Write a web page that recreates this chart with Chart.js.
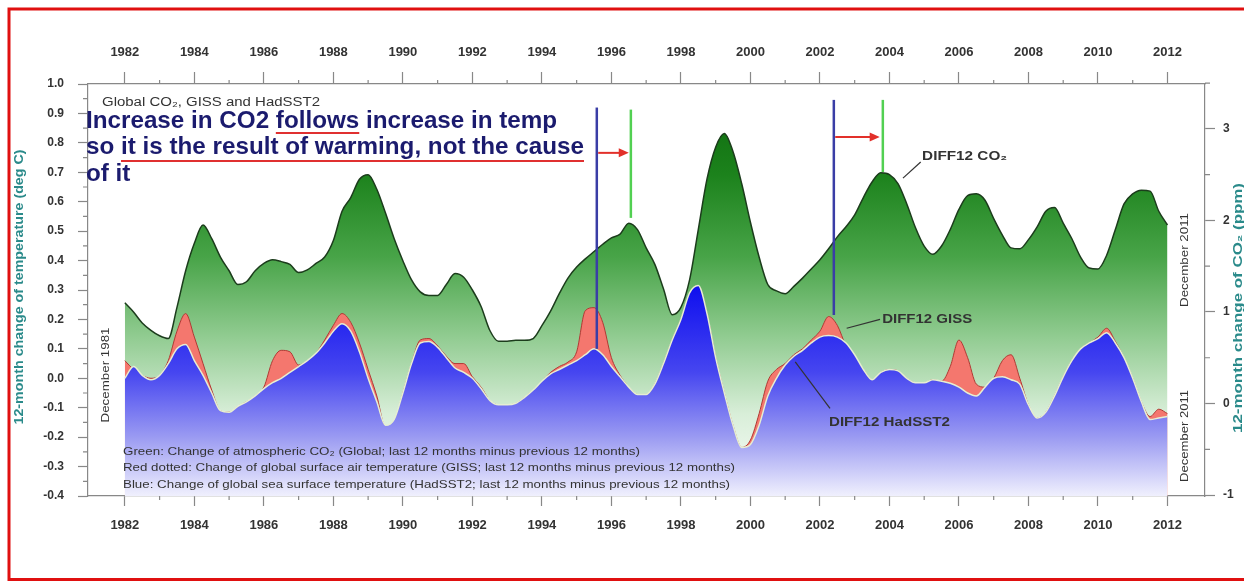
<!DOCTYPE html>
<html>
<head>
<meta charset="utf-8">
<title>Global CO2, GISS and HadSST2 - 12 month differences</title>
<script src="https://cdn.jsdelivr.net/npm/chart.js@4.4.1/dist/chart.umd.min.js"></script>
<style>
  html, body { margin: 0; padding: 0; background: #fff; }
  #wrap { width: 1244px; height: 581px; position: relative; }
</style>
</head>
<body>
<div id="wrap"><canvas id="chart"></canvas></div>
<script>
const FONT = "'Liberation Sans', Arial, sans-serif";

// quarterly steps, Dec 1981 .. Dec 2011
const years = [];
for (let i = 0; i <= 120; i++) years.push(1982 + i / 4);

// DIFF12 CO2 (ppm, right axis)
const co2Diff = [
  1.10, 1.00, 0.88, 0.80,   0.74, 0.71, 1.05, 1.45,   1.75, 1.95, 1.80, 1.60,
  1.45, 1.30, 1.33, 1.45,   1.53, 1.57, 1.55, 1.52,   1.43, 1.46, 1.53, 1.60,
  1.78, 2.10, 2.25, 2.45,   2.50, 2.34, 2.08, 1.80,   1.56, 1.35, 1.22, 1.18,
  1.18, 1.30, 1.42, 1.38,   1.24, 1.06, 0.80, 0.68,   0.68, 0.69, 0.69, 0.71,
  0.85, 1.01, 1.20, 1.37,   1.49, 1.58, 1.66, 1.74,   1.81, 1.85, 1.97, 1.90,
  1.70, 1.52, 1.25, 0.97,   1.05, 1.35, 1.90, 2.45,   2.80, 2.95, 2.75, 2.40,
  1.98, 1.60, 1.30, 1.23,   1.20, 1.28, 1.37, 1.47,   1.57, 1.69, 1.82, 1.93,
  2.06, 2.25, 2.42, 2.52,   2.50, 2.40, 2.18, 1.92,   1.72, 1.63, 1.72, 1.90,
  2.12, 2.27, 2.29, 2.22,   2.02, 1.84, 1.70, 1.69,   1.79, 1.93, 2.10, 2.14,
  1.97, 1.80, 1.60, 1.48,   1.47, 1.62, 1.90, 2.18,   2.29, 2.33, 2.32, 2.10,
  1.95
];

// DIFF12 GISS (deg C, left axis)
const gissDiff = [
  0.06, 0.03, 0.01, 0.00,   0.01, 0.06, 0.16, 0.22,   0.14, 0.05, -0.04, -0.11,
  -0.115, -0.095, -0.08, -0.06,   -0.03, 0.06, 0.095, 0.09,   0.045, 0.06, 0.085, 0.13,
  0.18, 0.22, 0.19, 0.12,   0.03, -0.06, -0.165, -0.15,   -0.05, 0.05, 0.13, 0.135,
  0.11, 0.075, 0.05, 0.05,   0.005, -0.03, -0.075, -0.09,   -0.09, -0.085, -0.065, -0.04,
  -0.01, 0.02, 0.04, 0.055,   0.09, 0.23, 0.24, 0.19,   0.07, 0.01, -0.03, -0.055,
  -0.055, -0.02, 0.05, 0.13,   0.20, 0.29, 0.315, 0.22,   0.07, -0.05, -0.16, -0.235,
  -0.21, -0.12, -0.01, 0.03,   0.05, 0.08, 0.10, 0.13,   0.16, 0.21, 0.18, 0.11,
  0.07, 0.03, -0.005, 0.02,   0.03, 0.025, 0.00, -0.015,   -0.015, -0.005, -0.01, 0.04,
  0.13, 0.07, -0.02, -0.03,   0.00, 0.06, 0.08, 0.00,   -0.09, -0.135, -0.115, -0.06,
  0.005, 0.06, 0.10, 0.12,   0.14, 0.17, 0.125, 0.07,   0.00, -0.08, -0.13, -0.105,
  -0.12
];

// DIFF12 HadSST2 (deg C, left axis)
const hadsstDiff = [
  0.00, 0.04, 0.01, -0.005,   0.01, 0.05, 0.10, 0.115,   0.06, 0.01, -0.05, -0.11,
  -0.115, -0.095, -0.08, -0.06,   -0.035, -0.015, 0.00, 0.02,   0.04, 0.06, 0.085, 0.12,
  0.16, 0.185, 0.16, 0.09,   0.00, -0.08, -0.16, -0.14,   -0.05, 0.05, 0.12, 0.125,
  0.105, 0.07, 0.035, 0.02,   0.00, -0.035, -0.075, -0.09,   -0.09, -0.085, -0.065, -0.04,
  -0.01, 0.015, 0.03, 0.045,   0.06, 0.08, 0.10, 0.08,   0.04, 0.005, -0.03, -0.055,
  -0.055, -0.02, 0.05, 0.13,   0.20, 0.29, 0.315, 0.22,   0.07, -0.05, -0.16, -0.235,
  -0.225, -0.16, -0.06, 0.00,   0.045, 0.075, 0.095, 0.12,   0.14, 0.145, 0.14, 0.12,
  0.08, 0.03, -0.005, 0.02,   0.03, 0.025, 0.00, -0.015,   -0.015, -0.005, -0.01, -0.017,
  -0.03, -0.05, -0.06, -0.03,   0.00, 0.005, -0.005, -0.02,   -0.09, -0.135, -0.115, -0.06,
  0.005, 0.06, 0.10, 0.12,   0.135, 0.155, 0.12, 0.07,   0.00, -0.08, -0.14, -0.135,
  -0.13
];

const yearTicks = [1982, 1984, 1986, 1988, 1990, 1992, 1994, 1996, 1998, 2000, 2002, 2004, 2006, 2008, 2010, 2012];
const tempTicks = [-0.4, -0.3, -0.2, -0.1, 0.0, 0.1, 0.2, 0.3, 0.4, 0.5, 0.6, 0.7, 0.8, 0.9, 1.0];
const co2Ticks = [-1, 0, 1, 2, 3];

// temperature peak (blue) -> CO2 peak (green), in years / deg C
const leadLines = [
  { year: 1995.58, from: 0.10, to: 0.92 },
  { year: 2002.40, from: 0.215, to: 0.946 }
];
const lagLines = [
  { year: 1996.56, from: 0.545, to: 0.913 },
  { year: 2003.81, from: 0.701, to: 0.946 }
];
const arrows = [
  { from: 1995.62, to: 1996.50, at: 0.766 },
  { from: 2002.44, to: 2003.72, at: 0.820 }
];

const greenStops = [[0, '#0a660a'], [0.22, '#1c821c'], [0.42, '#48a448'], [0.6, '#8cc98c'], [0.8, '#d8eed8'], [1, '#ffffff']];
const blueStops = [[0, '#0000d8'], [0.45, '#0404ee'], [0.7, '#4646f0'], [0.86, '#9c9cf2'], [1, '#f0f0fd']];

function vGradient(chart, stops) {
  const a = chart.chartArea;
  if (!a) return 'transparent';
  const g = chart.ctx.createLinearGradient(0, a.top, 0, a.bottom);
  stops.forEach(([o, c]) => g.addColorStop(o, c));
  return g;
}

function pts(vals) {
  return vals.map((v, i) => ({ x: years[i], y: v }));
}

function fitText(ctx, str, x, y, o) {
  ctx.save();
  ctx.font = `${o.weight || 'normal'} ${o.size}px ${FONT}`;
  ctx.fillStyle = o.color || '#333';
  ctx.textBaseline = o.baseline || 'middle';
  ctx.textAlign = o.align || 'left';
  const w = ctx.measureText(str).width;
  const s = o.scale || (o.width ? o.width / w : 1);
  ctx.translate(x, y);
  if (o.rotate) ctx.rotate(-Math.PI / 2);
  ctx.scale(s, 1);
  ctx.fillText(str, 0, 0);
  ctx.restore();
  return s;
}

const overlay = {
  id: 'overlay',
  afterDatasetsDraw(chart) {
    const ctx = chart.ctx;
    const X = v => chart.scales.x.getPixelForValue(v);
    const Y = v => chart.scales.y.getPixelForValue(v);
    ctx.save();
    ctx.lineWidth = 2.5;
    ctx.strokeStyle = '#3a3ea6';
    leadLines.forEach(l => {
      ctx.beginPath(); ctx.moveTo(X(l.year), Y(l.from)); ctx.lineTo(X(l.year), Y(l.to)); ctx.stroke();
    });
    ctx.strokeStyle = '#52d052';
    lagLines.forEach(l => {
      ctx.beginPath(); ctx.moveTo(X(l.year), Y(l.from)); ctx.lineTo(X(l.year), Y(l.to)); ctx.stroke();
    });
    ctx.strokeStyle = '#e2302a';
    ctx.fillStyle = '#e2302a';
    ctx.lineWidth = 2;
    arrows.forEach(a => {
      const x1 = X(a.from), x2 = X(a.to), y = Y(a.at);
      ctx.beginPath(); ctx.moveTo(x1, y); ctx.lineTo(x2 - 8, y); ctx.stroke();
      ctx.beginPath(); ctx.moveTo(x2, y); ctx.lineTo(x2 - 10, y - 4.5); ctx.lineTo(x2 - 10, y + 4.5); ctx.closePath(); ctx.fill();
    });

    // leader lines for the series labels
    ctx.strokeStyle = '#333';
    ctx.lineWidth = 1.2;
    [[2004.39, 0.68, 2004.90, 0.735], [2002.77, 0.17, 2003.73, 0.20], [2001.29, 0.056, 2002.29, -0.102]]
      .forEach(([a, b, c, d]) => {
        ctx.beginPath(); ctx.moveTo(X(a), Y(b)); ctx.lineTo(X(c), Y(d)); ctx.stroke();
      });
    ctx.restore();
  },
  afterDraw(chart) {
    const ctx = chart.ctx;
    const X = v => chart.scales.x.getPixelForValue(v);
    const Y = v => chart.scales.y.getPixelForValue(v);
    const YR = v => chart.scales.yR.getPixelForValue(v);
    const a = chart.chartArea;

    // minor ticks
    ctx.save();
    ctx.strokeStyle = '#888';
    ctx.lineWidth = 1.2;
    ctx.beginPath();
    for (let yr = 1983; yr <= 2011; yr += 2) {
      ctx.moveTo(X(yr), a.top); ctx.lineTo(X(yr), a.top - 4);
      ctx.moveTo(X(yr), a.bottom); ctx.lineTo(X(yr), a.bottom + 4);
    }
    for (let k = -35; k <= 95; k += 10) {
      ctx.moveTo(a.left, Y(k / 100)); ctx.lineTo(a.left - 5, Y(k / 100));
    }
    for (let k = -0.5; k <= 3.5; k += 1) {
      ctx.moveTo(a.right, YR(k)); ctx.lineTo(a.right + 5, YR(k));
    }
    ctx.stroke();
    ctx.restore();

    // axis titles
    fitText(ctx, '12-month change of temperature (deg C)', 20, 287, { size: 12, weight: 'bold', color: '#2a8a8a', align: 'center', rotate: true, width: 275 });
    fitText(ctx, '12-month change of CO\u2082 (ppm)', 1239, 308, { size: 12, weight: 'bold', color: '#2a8a8a', align: 'center', rotate: true, width: 250 });

    // period labels
    fitText(ctx, 'December 1981', 106, 375, { size: 11, align: 'center', rotate: true, width: 95 });
    fitText(ctx, 'December 2011', 1185, 260, { size: 11, align: 'center', rotate: true, width: 94 });
    fitText(ctx, 'December 2011', 1185, 436, { size: 11, align: 'center', rotate: true, width: 92 });

    // chart heading and notes
    fitText(ctx, 'Global CO\u2082, GISS and HadSST2', 102, 103, { size: 12, width: 218 });
    fitText(ctx, 'Green: Change of atmospheric CO\u2082 (Global; last 12 months minus previous 12 months)', 123, 452, { size: 11, width: 517 });
    fitText(ctx, 'Red dotted: Change of global surface air temperature (GISS; last 12 months minus previous 12 months)', 123, 468, { size: 11, width: 612 });
    fitText(ctx, 'Blue: Change of global sea surface temperature (HadSST2; last 12 months minus previous 12 months)', 123, 485, { size: 11, width: 607 });

    // series labels
    fitText(ctx, 'DIFF12 CO\u2082', X(2004.94), Y(0.753), { size: 12, weight: 'bold', width: 85 });
    fitText(ctx, 'DIFF12 GISS', X(2003.79), Y(0.198), { size: 12, weight: 'bold', width: 90 });
    fitText(ctx, 'DIFF12 HadSST2', X(2002.26), Y(-0.152), { size: 12, weight: 'bold', width: 121 });

    // claim written over the chart
    const navy = '#1b1b6e';
    const l1a = 'Increase in CO2 ', l1b = 'follows', l2a = 'so ';
    const line2 = 'so it is the result of warming, not the cause';
    const s = fitText(ctx, line2, 86, 154, { size: 24, weight: 'bold', color: navy, baseline: 'alphabetic', width: 498 });
    fitText(ctx, 'Increase in CO2 follows increase in temp', 86, 128, { size: 24, weight: 'bold', color: navy, baseline: 'alphabetic', scale: s });
    fitText(ctx, 'of it', 86, 181, { size: 24, weight: 'bold', color: navy, baseline: 'alphabetic', scale: s });
    ctx.save();
    ctx.font = `bold 24px ${FONT}`;
    const fx = 86 + ctx.measureText(l1a).width * s;
    const fw = ctx.measureText(l1b).width * s;
    const ux = 86 + ctx.measureText(l2a).width * s;
    const uw = ctx.measureText(line2).width * s;
    ctx.strokeStyle = '#e03030';
    ctx.lineWidth = 2;
    ctx.beginPath();
    ctx.moveTo(fx, 133); ctx.lineTo(fx + fw, 133);
    ctx.moveTo(ux, 161); ctx.lineTo(86 + uw, 161);
    ctx.stroke();

    // red frame of the picture
    ctx.strokeStyle = '#e01010';
    ctx.lineWidth = 3;
    ctx.beginPath();
    ctx.moveTo(9, 581); ctx.lineTo(9, 9); ctx.lineTo(1244, 9);
    ctx.moveTo(9, 579.5); ctx.lineTo(1244, 579.5);
    ctx.stroke();
    ctx.restore();
  }
};

const axisGrid = { drawOnChartArea: false, drawTicks: true, tickColor: '#888', tickWidth: 1.2 };
const axisBorder = { display: true, color: '#888', width: 1.2 };
const xTickFont = { family: FONT, size: 13, weight: 'bold' };
const yTickFont = { family: FONT, size: 12, weight: 'bold' };

new Chart(document.getElementById('chart'), {
  type: 'line',
  data: {
    datasets: [
      {
        label: 'DIFF12 HadSST2',
        data: pts(hadsstDiff),
        yAxisID: 'y',
        order: 1,
        borderColor: '#e6eed2',
        borderWidth: 1.5,
        fill: 'start',
        backgroundColor: c => vGradient(c.chart, blueStops)
      },
      {
        label: 'DIFF12 GISS',
        data: pts(gissDiff),
        yAxisID: 'y',
        order: 2,
        borderColor: '#b03a34',
        borderWidth: 1,
        fill: 'start',
        backgroundColor: '#f4776e'
      },
      {
        label: 'DIFF12 CO2',
        data: pts(co2Diff),
        yAxisID: 'yR',
        order: 3,
        borderColor: '#1c3c1c',
        borderWidth: 1.5,
        fill: 'start',
        backgroundColor: c => vGradient(c.chart, greenStops)
      }
    ]
  },
  options: {
    responsive: true,
    maintainAspectRatio: false,
    animation: false,
    layout: { padding: 0 },
    elements: {
      point: { radius: 0 },
      line: { cubicInterpolationMode: 'monotone' }
    },
    plugins: {
      legend: { display: false },
      tooltip: { enabled: false }
    },
    scales: {
      x: {
        type: 'linear',
        position: 'bottom',
        min: 1980.94,
        max: 2013.08,
        afterBuildTicks: s => { s.ticks = yearTicks.map(v => ({ value: v })); },
        afterFit: s => { s.height = 85; },
        grid: { ...axisGrid, tickLength: 10 },
        border: axisBorder,
        ticks: { font: xTickFont, color: '#333', padding: 12, maxRotation: 0, autoSkip: false, callback: v => String(v) }
      },
      xTop: {
        type: 'linear',
        position: 'top',
        min: 1980.94,
        max: 2013.08,
        afterBuildTicks: s => { s.ticks = yearTicks.map(v => ({ value: v })); },
        afterFit: s => { s.height = 84; },
        grid: { ...axisGrid, tickLength: 12 },
        border: axisBorder,
        ticks: { font: xTickFont, color: '#333', padding: 12, maxRotation: 0, autoSkip: false, callback: v => String(v) }
      },
      y: {
        type: 'linear',
        position: 'left',
        min: -0.4,
        max: 1.0,
        afterBuildTicks: s => { s.ticks = tempTicks.map(v => ({ value: v })); },
        afterFit: s => { s.width = 88; },
        grid: { ...axisGrid, tickLength: 10 },
        border: axisBorder,
        ticks: { font: yTickFont, color: '#333', padding: 14, callback: v => Number(v).toFixed(1) }
      },
      yR: {
        type: 'linear',
        position: 'right',
        min: -1.01,
        max: 3.49,
        afterBuildTicks: s => { s.ticks = co2Ticks.map(v => ({ value: v })); },
        afterFit: s => { s.width = 39; },
        grid: { ...axisGrid, tickLength: 10 },
        border: axisBorder,
        ticks: { font: yTickFont, color: '#333', padding: 8, callback: v => String(v) }
      }
    }
  },
  plugins: [overlay]
});
</script>
</body>
</html>
